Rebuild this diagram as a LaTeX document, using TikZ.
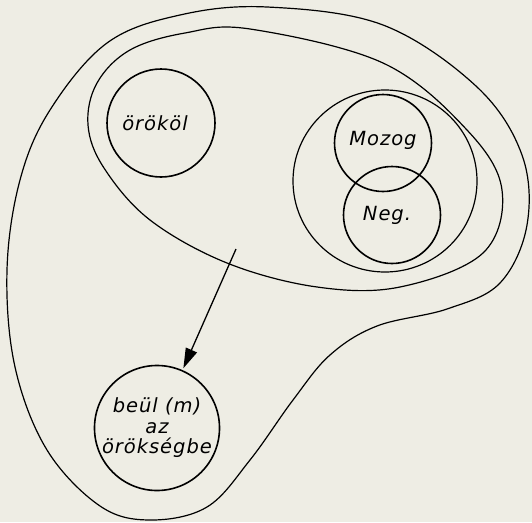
\documentclass[tikz,border=0pt]{standalone}
\usepackage{fontspec}
\setmainfont{DejaVu Sans}[LetterSpace=5]
\usetikzlibrary{arrows.meta}
\definecolor{paper}{RGB}{238,237,228}
\tikzset{
	ring/.style={circle, draw, line width=1.6pt, inner sep=0pt, align=center,
		font=\fontsize{19.5}{20.5}\selectfont\itshape},
	blob/.style={line width=1.2pt},
}

\begin{document}
\begin{tikzpicture}[x=1pt, y=-1pt]
			%%%%% START %%%%%
			
			\fill[paper] (0, 0) rectangle (532, 522);
			\useasboundingbox (0, 0) rectangle (532, 522);
			
			% outer blob
			\draw[blob] plot[smooth cycle, tension=0.6] coordinates {
				(267, 7) (383, 25) (477, 87) (522, 155) (527, 225) (500, 283)
				(447, 309) (377, 326) (330, 355) (293, 400) (250, 460) (207, 507)
				(150, 520) (100, 506) (47, 450) (15, 367) (7, 270) (20, 180)
				(50, 110) (107, 43) (180, 15)};
			
			% middle loop
			\draw[blob] plot[smooth cycle, tension=0.6] coordinates {
				(250, 29) (383, 63) (467, 130) (502, 190) (483, 253) (400, 287)
				(317, 287) (227, 263) (150, 220) (104, 168) (88, 125) (97, 83)
				(130, 50) (185, 33)};
			
			% inner loop
			\draw[blob] (385, 181) ellipse (92 and 91);
			
			\node[ring, minimum size=108pt] (orokol) at (161, 123) {\hspace*{-12pt}örököl};
			\node[ring, minimum size=97pt] (mozog) at (383, 143) {\raisebox{10pt}{Mozog}};
			\node[ring, minimum size=97pt] (neg) at (392, 215) {\hspace*{-10pt}Neg.};
			\node[ring, minimum size=122pt] (beul) at (157, 428) {beül (m)\\az\\örökségbe};
			
			\coordinate (from) at (236, 249);
			\draw[line width=1.3pt, -{Triangle[length=20pt, width=12pt]}, shorten >=2pt] (from) -- (beul);
			
			%%%%% END %%%%%
\end{tikzpicture}
\end{document}
